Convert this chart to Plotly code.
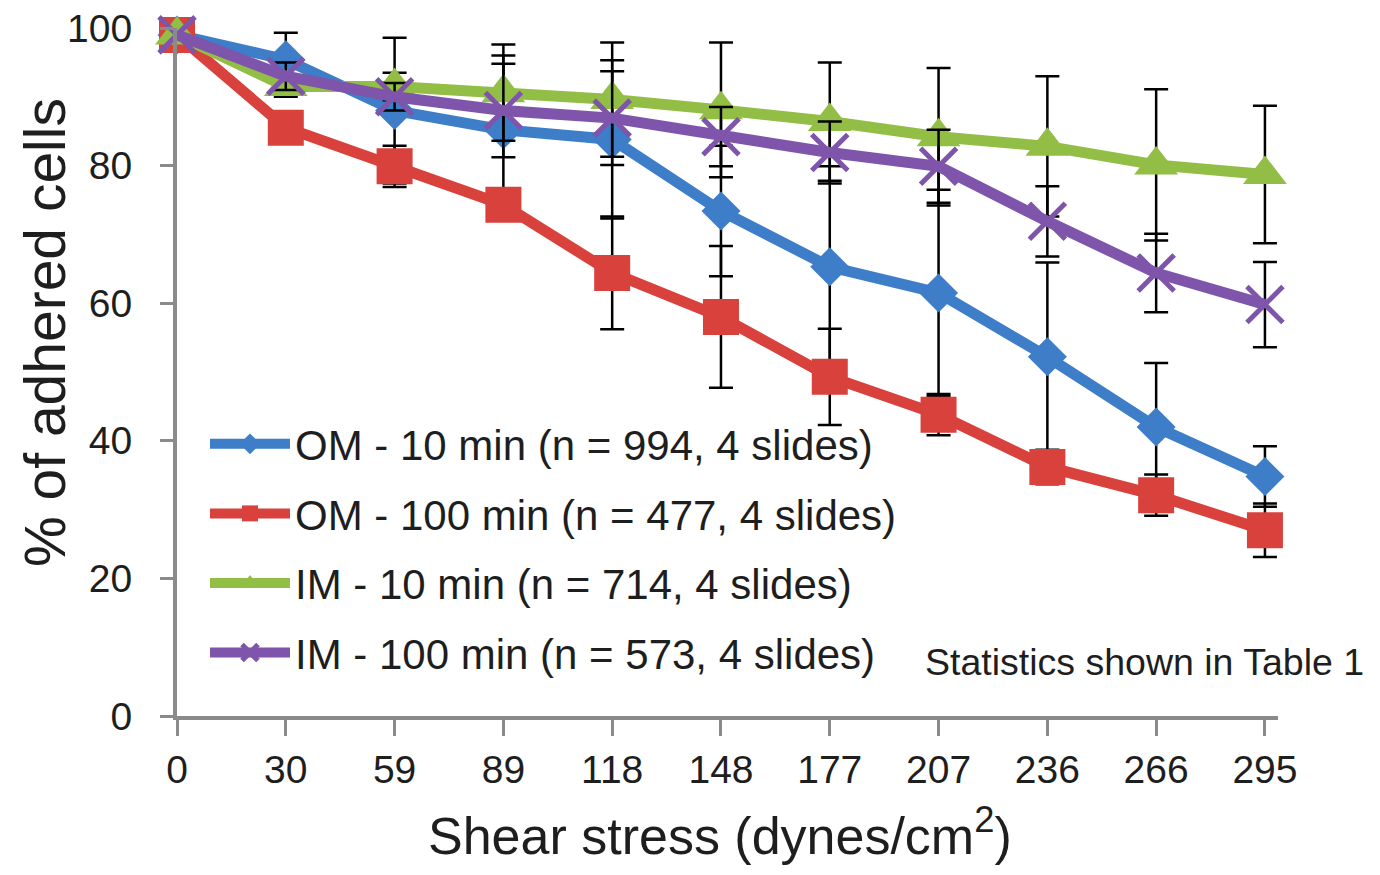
import plotly.graph_objects as go

shear = ["0", "30", "59", "89", "118", "148", "177", "207", "236", "266", "295"]

om10 = [99, 95.4, 88.0, 85.2, 83.8, 73.4, 65.3, 61.5, 52.2, 42.0, 34.8]
om10_err = [None, 3.9, 10.6, 10.8, 11.5, 9.5, 14.6, 15.0, 13.7, 9.3, 4.4]

om100 = [99, 85.5, 79.9, 74.3, 64.4, 58.0, 49.3, 43.8, 36.2, 32.1, 27.0]
om100_err = [None, 2.0, 3.0, 2.0, 8.2, 10.3, 7.0, 3.0, 2.5, 3.0, 3.9]

im10 = [99, 91.5, 91.5, 90.6, 89.6, 88.1, 86.4, 84.2, 82.8, 80.1, 78.7]
im10_err = [None, 1.5, 2.0, 7.0, 8.3, 9.8, 8.6, 10.0, 10.2, 11.0, 10.0]

im100 = [99, 93.0, 90.0, 88.0, 86.9, 84.2, 81.9, 79.9, 71.9, 64.4, 59.8]
im100_err = [None, 2.0, 2.0, 6.8, 6.8, 4.3, 4.5, 5.3, 5.1, 5.7, 6.2]

names = [
    "OM - 10 min (n = 994, 4 slides)",
    "OM - 100 min (n = 477, 4 slides)",
    "IM - 10 min (n = 714, 4 slides)",
    "IM - 100 min (n = 573, 4 slides)",
]
y_ticks = [0, 20, 40, 60, 80, 100]

FONT = "Arial, 'Liberation Sans', sans-serif"
TXT = "#1e1e1e"
AX = "#8a8a8a"

series = [
    (om10, om10_err, names[0], "#3E7DC8", dict(symbol="diamond", size=30)),
    (om100, om100_err, names[1], "#D8413C", dict(symbol="square", size=36)),
    (im10, im10_err, names[2], "#93BE45", dict(symbol="triangle-up", size=38)),
    (im100, im100_err, names[3], "#7E55AA", dict(symbol="x-thin", size=36)),
]

fig = go.Figure()
for i, (vals, err, nm, col, mk) in enumerate(series):
    marker = dict(color=col, **mk)
    if mk["symbol"] == "x-thin":
        marker["line"] = dict(color=col, width=5)
    fig.add_trace(go.Scatter(
        x=shear, y=vals, name=nm, mode="lines+markers",
        line=dict(color=col, width=11),
        marker=marker,
        error_y=dict(type="data", array=err, color="black", thickness=2.5, width=12),
        cliponaxis=False,
        legendgroup=f"g{i}",
    ))

# page has an 8px body margin; work in page pixels and convert
OFF = 8
W, H = 1380 - 2 * OFF, 875 - 2 * OFF
L, R, T, B = 177 - OFF, 1265 - OFF, 28 - OFF, 716 - OFF
EXTRA = 0.12  # extra category room on the right so end caps are not clipped
unit = (R - L) / 10.0
R_ext = R + EXTRA * unit

def px(xp):
    return (xp - OFF - L) / (R_ext - L)

def py(yp):
    return (B - (yp - OFF)) / (B - T)

fig.update_layout(
    width=W, height=H,
    margin=dict(l=L, r=W - R_ext, t=T, b=H - B, autoexpand=False),
    paper_bgcolor="white", plot_bgcolor="white",
    font=dict(family=FONT, color=TXT),
    showlegend=True,
    legend=dict(
        x=px(205), y=py(410), xanchor="left", yanchor="top",
        font=dict(size=42, color=TXT, family=FONT),
        bgcolor="rgba(0,0,0,0)", tracegroupgap=12,
        traceorder="grouped", itemwidth=80,
    ),
    xaxis=dict(
        type="category", range=[0, 10 + EXTRA], automargin=False,
        showline=True, linecolor=AX, linewidth=4,
        ticks="outside", ticklen=16, tickwidth=3, tickcolor=AX,
        showgrid=False, zeroline=False,
        tickfont=dict(size=39, color=TXT, family=FONT),
    ),
    yaxis=dict(
        range=[0, 100], tickvals=y_ticks, automargin=False,
        showline=True, linecolor=AX, linewidth=4,
        ticks="outside", ticklen=13, tickwidth=3, tickcolor=AX,
        showgrid=False, zeroline=False,
        tickfont=dict(size=39, color=TXT, family=FONT),
        ticklabelstandoff=20, ticklabeloverflow="allow",
    ),
    annotations=[
        dict(text="Shear stress (dynes/cm<sup>2</sup>)", xref="paper", yref="paper",
             x=px(720), y=py(832), xanchor="center", yanchor="middle",
             showarrow=False, font=dict(size=52, color=TXT, family=FONT)),
        dict(text="% of adhered cells", xref="paper", yref="paper",
             x=px(45), y=py(333), xanchor="center", yanchor="middle", textangle=-90,
             showarrow=False, font=dict(size=57, color=TXT, family=FONT)),
        dict(text="Statistics shown in Table 1", xref="paper", yref="paper",
             x=px(923), y=py(662), xanchor="left", yanchor="middle",
             showarrow=False, font=dict(size=37.5, color=TXT, family=FONT)),
    ],
)

fig.write_html("out.html")
